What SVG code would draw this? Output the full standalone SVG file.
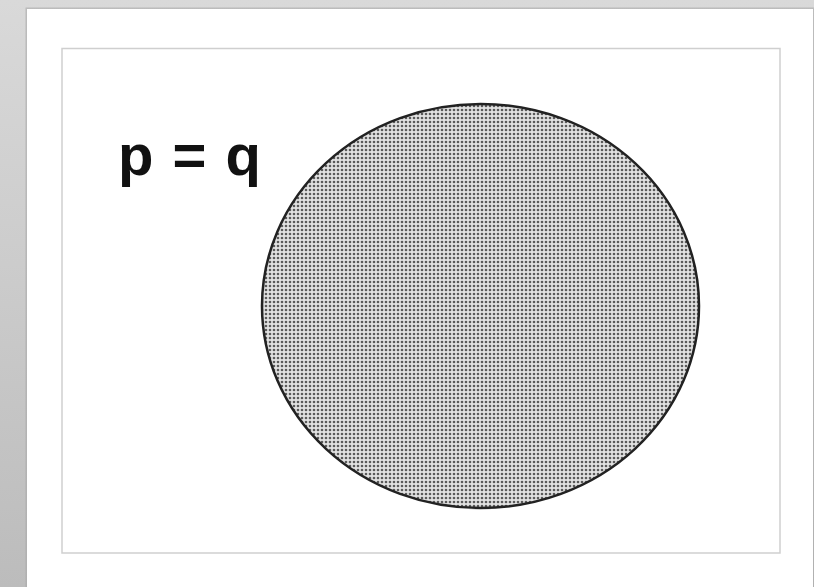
<svg xmlns="http://www.w3.org/2000/svg" width="814" height="587" viewBox="0 0 814 587">
  <defs>
    <linearGradient id="bg" x1="0" y1="0" x2="0" y2="1">
      <stop offset="0" stop-color="#d9d9d9"/>
      <stop offset="1" stop-color="#bcbcbc"/>
    </linearGradient>
    <pattern id="dots" width="4" height="4" patternUnits="userSpaceOnUse">
      <rect width="4" height="4" fill="#e2e2e2"/>
      <circle cx="2" cy="2" r="1.3" fill="#5a5a5a"/>
    </pattern>
    <style>
      .frame { fill: none; stroke: #cfcfcf; stroke-width: 1.5; }
      .label { font-family: "Liberation Sans", Arial, sans-serif; font-weight: bold; font-size: 58px; fill: #111; }
    </style>
  </defs>
  <rect width="814" height="587" fill="url(#bg)"/>
  <rect x="25.5" y="7.5" width="790" height="590" fill="#a8a8a8" opacity="0.6"/>
  <rect x="27" y="9" width="786" height="580" fill="#ffffff"/>
  <rect class="frame" x="62" y="48.5" width="718" height="504.5"/>
  <g id="circle">
    <ellipse cx="480.5" cy="306" rx="218.5" ry="202" fill="url(#dots)" stroke="#222" stroke-width="2.5"/>
  </g>
  <g id="label">
    <text class="label" x="118" y="175" word-spacing="3">p = q</text>
  </g>
</svg>
